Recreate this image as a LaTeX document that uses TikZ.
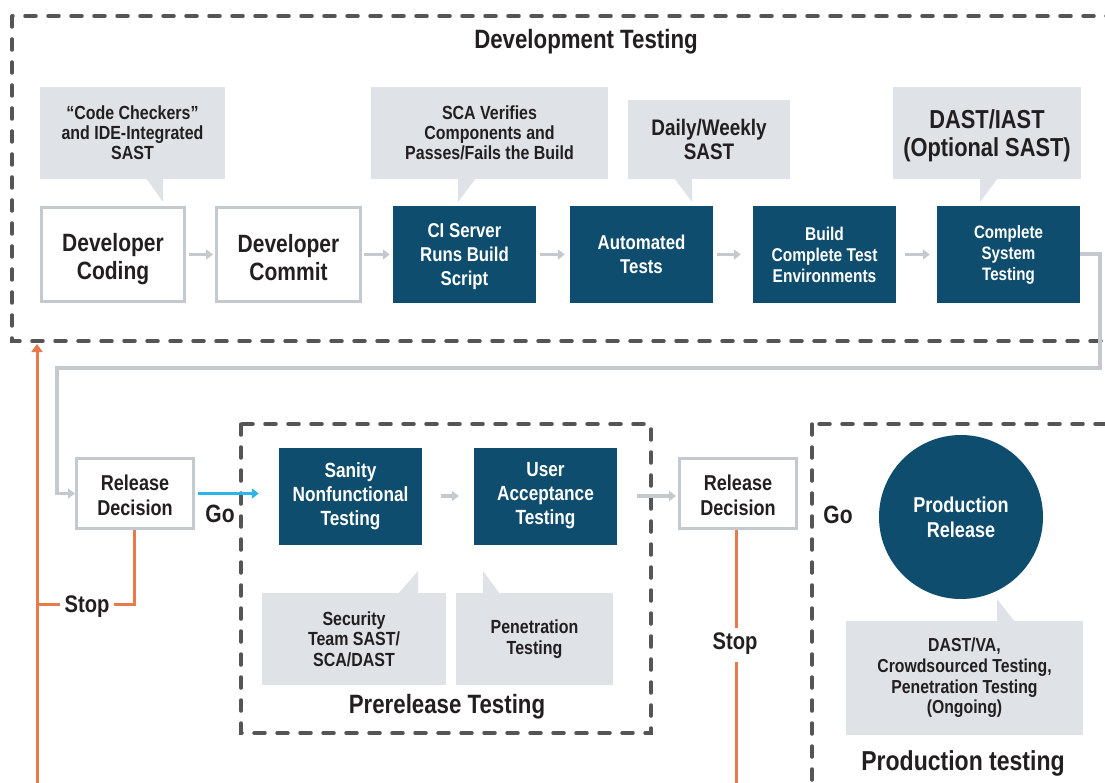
\documentclass[tikz,border=0pt]{standalone}
\usepackage{fontspec}
\setmainfont{Liberation Sans}[FakeStretch=0.84]
\usetikzlibrary{arrows.meta}
\definecolor{navy}{HTML}{0F4D6E}
\definecolor{callgray}{HTML}{DFE2E6}
\definecolor{boxgray}{HTML}{C4C9D0}
\definecolor{dashgray}{HTML}{555555}
\definecolor{orng}{HTML}{E87B4C}
\definecolor{skyblue}{HTML}{2DB4E8}
\definecolor{txt}{HTML}{231F20}
\newcommand{\fs}[2]{\fontsize{#1}{#2}\selectfont\bfseries}
\newcommand{\up}[1]{\rule{0pt}{#1}}
\tikzset{
  whitebox/.style={draw=boxgray, line width=3pt, fill=white, align=center, text=txt, inner sep=0pt},
  bluebox/.style={fill=navy, minimum width=143pt, minimum height=97pt, align=center, text=white, inner sep=0pt},
  callout/.style={fill=callgray, align=center, text=txt, inner sep=0pt},
  pointer/.style={fill=callgray},
  flow/.style={draw=boxgray, line width=3.5pt, -{Triangle[length=7pt,width=10pt]}},
  dashbox/.style={draw=dashgray, line width=3.5pt, line cap=round, dash pattern=on 11pt off 12pt},
  stopline/.style={draw=orng, line width=3pt},
  label/.style={text=txt, inner sep=4pt, align=center},
}
\begin{document}
\begin{tikzpicture}[x=1pt,y=-1pt]
\useasboundingbox (0,0) rectangle (1105,783);
\clip (0,0) rectangle (1105,783);
\fill[white] (0,0) rectangle (1105,783);

% dashed groups
\draw[dashbox] (12,16) rectangle (1125,341);
\draw[dashbox] (241,424) rectangle (651,733);
\draw[dashbox] (812,424) rectangle (1125,810);

\node[label, font=\fs{26.5}{28}] (devtitle) at (586,42) {Development Testing};

% callouts top
\node[callout, minimum width=185pt, minimum height=92pt, font=\fs{19}{20}] (c1) at (132.5,133) {“Code Checkers”\\and IDE-Integrated\\SAST};
\fill[pointer] (146,178) -- (163,178) -- (163,202) -- cycle;
\node[callout, minimum width=237pt, minimum height=92pt, font=\fs{19}{20}] (c2) at (489.5,133) {SCA Verifies\\Components and\\Passes/Fails the Build};
\fill[pointer] (458,178) -- (476,178) -- (458,202) -- cycle;
\node[callout, minimum width=162pt, minimum height=79pt, font=\fs{22.5}{23.5}] (c3) at (709,139.5) {Daily/Weekly\\SAST};
\fill[pointer] (674,178) -- (692,178) -- (692,202) -- cycle;
\node[callout, minimum width=188pt, minimum height=92pt, font=\fs{26}{28.5}] (c4) at (987,133) {\up{24pt}DAST/IAST\\(Optional SAST)};
\fill[pointer] (980,178) -- (998,178) -- (980,202) -- cycle;

% main row
\node[whitebox, minimum width=143pt, minimum height=94pt, font=\fs{25}{28}] (coding) at (113,254.5) {\up{28pt}Developer\\Coding};
\node[whitebox, minimum width=144pt, minimum height=94pt, font=\fs{25}{28}] (commit) at (288.5,254.5) {\up{24pt}Developer\\Commit};
\node[bluebox, font=\fs{20}{24}] (ci) at (464.5,254.5) {\up{19pt}CI Server\\Runs Build\\Script};
\node[bluebox, font=\fs{20}{24}] (auto) at (641.5,254.5) {Automated\\Tests};
\node[bluebox, font=\fs{18.5}{21}] (build) at (824.5,254.5) {Build\\Complete Test\\Environments};
\node[bluebox, font=\fs{18}{21}] (system) at (1008.5,254.5) {Complete\\System\\Testing};

\draw[flow, shorten <=3pt, shorten >=2pt] (coding) -- (commit);
\draw[flow, shorten <=2pt, shorten >=3pt] (commit) -- (ci);
\draw[flow, shorten <=4pt, shorten >=5pt] (ci) -- (auto);
\draw[flow, shorten <=4pt, shorten >=12pt] (auto) -- (build);
\draw[flow, shorten <=9pt, shorten >=7pt] (build) -- (system);

% loop to release decision
\node[whitebox, minimum width=117pt, minimum height=70pt, font=\fs{21.5}{25}] (rd1) at (135,493.5) {\up{19pt}Release\\Decision};
\draw[flow] (system.east |- 0,254) -- (1100,254) |- (57,368) |- (rd1.west);

% prerelease
\node[bluebox, font=\fs{20.5}{24}] (sanity) at (350.5,496) {Sanity\\Nonfunctional\\Testing};
\node[bluebox, font=\fs{20.5}{24}] (uat) at (545.5,496) {User\\Acceptance\\Testing};
\draw[flow, shorten <=19pt, shorten >=15pt] (sanity) -- (uat);

\draw[draw=skyblue, line width=3.5pt, -{Triangle[length=7pt,width=10pt]}, shorten <=3pt, shorten >=20pt] (rd1.east) -- (sanity.west |- rd1.east);
\node[label, font=\fs{25}{28}] (go1) at (220,514) {Go};

\node[callout, minimum width=184pt, minimum height=92pt, font=\fs{19}{20.5}] (sec) at (354,639) {Security\\Team SAST/\\SCA/DAST};
\fill[pointer] (398,594) -- (418,594) -- (418,571) -- cycle;
\node[callout, minimum width=157pt, minimum height=92pt, font=\fs{19}{20.5}] (pen) at (534.5,639) {Penetration\\Testing};
\fill[pointer] (483,594) -- (500,594) -- (483,571) -- cycle;
\node[label, font=\fs{26.5}{28}] (pretitle) at (447,707) {Prerelease Testing};

\node[whitebox, minimum width=117pt, minimum height=70pt, font=\fs{21.5}{25}] (rd2) at (738,493.5) {\up{19pt}Release\\Decision};
\draw[flow, shorten <=20pt, shorten >=2pt] (uat.east |- 0,496) -- (rd2.west |- 0,496);

% stops
\node[label, font=\fs{24}{28}] (stop1) at (87,607) {Stop};
\draw[stopline] (rd1.south -| 134,0) |- (stop1.east |- 0,604);
\draw[stopline] (stop1.west |- 0,604) -- (36,604);
\draw[stopline, -{Triangle[length=8pt,width=11pt]}] (37,790) -- (37,344);

\node[label, inner sep=5pt, font=\fs{24}{28}] (stop2) at (735,644) {Stop};
\draw[stopline] (rd2.south -| 736,0) -- (736,628);
\draw[stopline] (736,662) -- (736,790);

% production
\node[label, font=\fs{25}{28}] (go2) at (838,515) {Go};
\node[circle, fill=navy, minimum size=164pt, text=white, align=center, inner sep=0pt, font=\fs{21.5}{25}] (prod) at (961,517) {Production\\Release};
\node[callout, minimum width=237pt, minimum height=114pt, font=\fs{18.8}{20.7}] (dast) at (964.5,678) {DAST/VA,\\Crowdsourced Testing,\\Penetration Testing\\(Ongoing)};
\fill[pointer] (997,622) -- (1015,622) -- (997,599) -- cycle;
\node[label, font=\fs{27.4}{28}] (prodtitle) at (963,763) {Production testing};
\end{tikzpicture}
\end{document}
